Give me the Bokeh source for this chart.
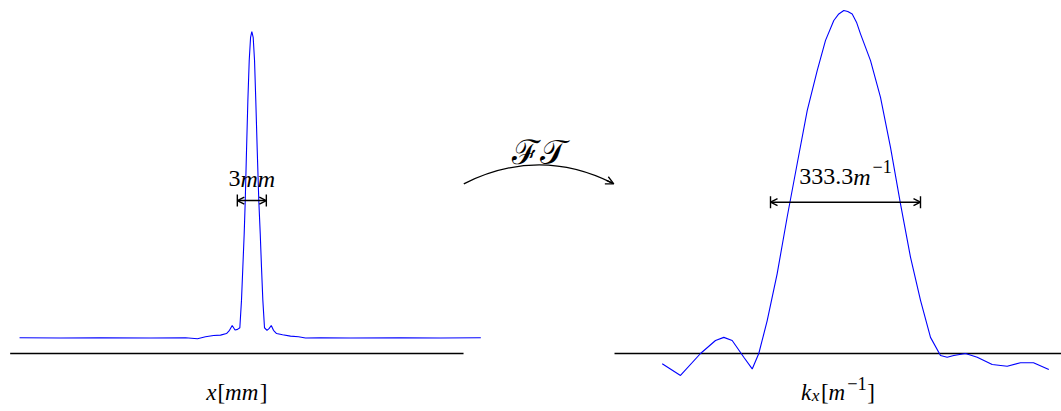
import numpy as np
from bokeh.plotting import figure
from bokeh.models import Range1d, Arrow, OpenHead
from bokeh.core.properties import value
from bokeh.embed import file_html
from bokeh.resources import INLINE

# ---- data -------------------------------------------------------------
# Spatial profile of the beam (x in mm, normalised amplitude)
x_mm = [-24.03, -19.79, -15.65, -10.48, -6.86, -5.62, -4.79, -3.96, -3.24,
        -2.62, -2.31, -2.03, -1.74, -1.48, -1.24, -1.07, -0.93, -0.79, -0.68,
        -0.55, -0.41, -0.27, -0.13, 0.00, 0.14, 0.28, 0.41, 0.56, 0.72, 0.87,
        1.00, 1.14, 1.31, 1.57, 1.80, 2.01, 2.24, 2.56, 3.18, 4.00, 4.83,
        5.55, 7.11, 10.21, 15.38, 19.52, 23.69]
amp_x = [0.049, 0.048, 0.049, 0.048, 0.049, 0.046, 0.052, 0.056, 0.057,
         0.062, 0.072, 0.087, 0.073, 0.075, 0.080, 0.165, 0.268, 0.372, 0.475,
         0.630, 0.786, 0.910, 0.982, 1.000, 0.982, 0.910, 0.786, 0.630, 0.475,
         0.372, 0.268, 0.165, 0.080, 0.072, 0.078, 0.087, 0.072, 0.062, 0.058,
         0.054, 0.052, 0.048, 0.049, 0.048, 0.049, 0.048, 0.049]

# Its spectrum (k_x in 1/m, normalised amplitude)
k_inv_m = [-407.3, -366.7, -322.2, -288.9, -270.4, -251.8, -226.0, -207.3,
           -192.7, -174.0, -151.8, -129.6, -107.3, -85.1, -62.9, -44.4, -26.0,
           -14.9, -3.8, 5.1, 14.9, 24.4, 33.3, 55.6, 77.8, 100.0, 122.2, 144.4,
           166.7, 188.9, 211.1, 225.9, 240.7, 266.7, 292.7, 326.0, 359.3,
           388.9, 417.8, 451.8]
amp_k = [-0.030, -0.064, 0.000, 0.038, 0.047, 0.038, -0.011, -0.045,
         0.000, 0.096, 0.233, 0.398, 0.554, 0.708, 0.825, 0.913, 0.971,
         0.990, 1.000, 0.997, 0.990, 0.966, 0.932, 0.854, 0.747, 0.601, 0.436,
         0.281, 0.155, 0.047, -0.006, -0.011, -0.006, 0.000, -0.011, -0.032,
         -0.037, -0.027, -0.027, -0.047]

width_mm = 3.0        # marked width of the beam
width_k = 333.3       # marked width of the spectrum

axis_x_mm = [-25.0, 21.9]
axis_k = [-513.3, 480.0]

# ---- figure -----------------------------------------------------------
W, H = 1061, 411
p = figure(width=W, height=H, x_range=Range1d(0, W), y_range=Range1d(H, 0),
           x_axis_type=None, y_axis_type=None, toolbar_location=None,
           output_backend="svg", min_border=0, outline_line_color=None,
           background_fill_color="white", border_fill_color="white")

p.extra_x_ranges = {"mm": Range1d(-26.0, 83.76), "k": Range1d(-1877.8, 480.0)}
p.extra_y_ranges = {"amp_x": Range1d(-0.1801, 1.0963),
                    "amp_k": Range1d(-0.1691, 1.0292)}

LEFT = dict(x_range_name="mm", y_range_name="amp_x")
RIGHT = dict(x_range_name="k", y_range_name="amp_k")

FONT = value("Liberation Serif")

# advance widths (em) used to chain mixed-style text runs
ADV = {c: 0.5 for c in "0123456789"}
ADV.update({".": 0.25, "[": 0.333, "]": 0.333, "\u2212": 0.564,
            "m": 0.722, "x": 0.444, "k": 0.444})


def text_run(parts, x, y, ranges, size):
    """Draw a run of (text, style, scale, dy, pad) pieces centred on x."""
    widths = [sum(ADV[c] for c in t) * size * s + pad
              for t, st, s, dy, pad in parts]
    off = -sum(widths) / 2
    for (t, st, s, dy, pad), w in zip(parts, widths):
        p.text(x=[x], y=[y], text=[t], x_offset=off, y_offset=dy,
               text_font=FONT, text_font_style=st,
               text_font_size=f"{size * s:.1f}px", text_color="black",
               text_align="left", text_baseline="alphabetic", **ranges)
        off += w


# baselines
p.line(axis_x_mm, [0, 0], line_color="black", line_width=1.3, **LEFT)
p.line(axis_k, [0, 0], line_color="black", line_width=1.3, **RIGHT)

# curves
p.line(x_mm, amp_x, line_color="#0000ff", line_width=1.1, **LEFT)
p.line(k_inv_m, amp_k, line_color="#0000ff", line_width=1.1, **RIGHT)

# width markers  |<->|
for (w, yb, ranges) in ((width_mm, 0.475, LEFT), (width_k, 0.441, RIGHT)):
    ends = [-w / 2, w / 2]
    p.add_layout(Arrow(x_start=ends[0], y_start=yb, x_end=ends[1], y_end=yb,
                       start=OpenHead(size=7, line_width=1.4, line_color="black"),
                       end=OpenHead(size=7, line_width=1.4, line_color="black"),
                       line_width=1.4, line_color="black", **ranges))
    p.scatter(ends, [yb, yb], marker="dash", angle=np.pi / 2, size=12,
              line_color="black", line_width=1.4, **ranges)

# width labels
text_run([(f"{width_mm:g}", "normal", 1, 0, 0), ("mm", "italic", 1, 0, 0)],
         0.0, 0.543, LEFT, 24)
text_run([(f"{width_k:g}", "normal", 1, 0, 0), ("m", "italic", 1, 0, 2),
          ("\u22121", "normal", 0.75, -10, 0)], 0.0, 0.515, RIGHT, 24)

# axis labels
text_run([("x", "italic", 1, 0, 1), ("[", "normal", 1, 0, 0),
          ("mm", "italic", 1, 0, 1.5), ("]", "normal", 1, 0, 0)],
         sum(axis_x_mm) / 2, -0.121, LEFT, 23)
text_run([("k", "italic", 1, 0, 0.5), ("x", "italic", 0.75, 3, 1.5),
          ("[", "normal", 1, 0, 0), ("m", "italic", 1, 0, 2),
          ("\u22121", "normal", 0.8, -9, 0.5), ("]", "normal", 1, 0, 0)],
         sum(axis_k) / 2, -0.114, RIGHT, 23)

# Fourier-transform arrow between the panels
p.quadratic(x0=[463.3], y0=[183.3], x1=[612.0], y1=[182.6],
            cx=[538.3], cy=[145.7], line_color="black", line_width=1.3)
p.add_layout(Arrow(x_start=606.0, y_start=179.8, x_end=613.3, y_end=183.3,
                   end=OpenHead(size=8, line_width=1.3, line_color="black"),
                   line_width=1.3, line_color="black"))
p.text(x=[538.0], y=[151.0], text=["\u2131\U0001D4AF"], text_font=value("DejaVu Serif"),
       text_font_size="34px", text_align="center", text_baseline="alphabetic",
       text_color="black")

open("out.html", "w").write(file_html(p, INLINE))
